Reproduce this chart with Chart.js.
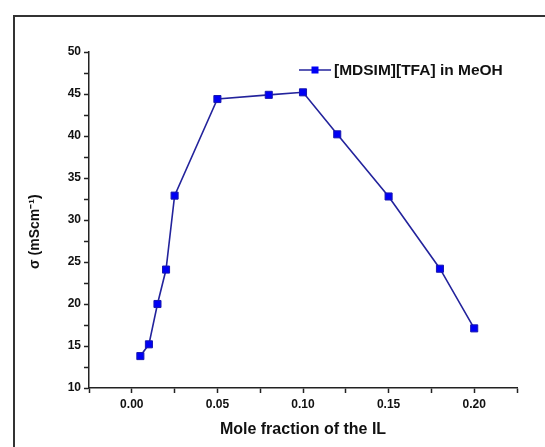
<!DOCTYPE html>
<html>
<head>
<meta charset="utf-8">
<script src="https://cdn.jsdelivr.net/npm/chart.js@4.4.1/dist/chart.umd.min.js"></script>
<style>
  html, body { margin: 0; padding: 0; background: #fff; }
  #wrap { width: 545px; height: 447px; position: relative; }
</style>
</head>
<body>
<div id="wrap"><canvas id="myChart"></canvas></div>
<script>
// data
var moleFraction = [0.005, 0.01, 0.015, 0.02, 0.025, 0.05, 0.08, 0.10, 0.12, 0.15, 0.18, 0.20];
var conductivity = [13.8, 15.2, 20.0, 24.1, 32.9, 44.4, 44.9, 45.2, 40.2, 32.8, 24.2, 17.1];
var seriesName = '[MDSIM][TFA] in MeOH';
var xTickLabels = ['0.00', '0.05', '0.10', '0.15', '0.20'];
var yTickLabels = ['10', '15', '20', '25', '30', '35', '40', '45', '50'];

var points = moleFraction.map(function(x, i) {
    return { x: x, y: conductivity[i] };
});

var lineColor = '#23239c';
var markerColor = '#0000f5';
var axisColor = '#222';

// outer frame of the figure
var framePlugin = {
    id: 'frame',
    beforeDraw: function(chart) {
        var c = chart.ctx;
        c.save();
        c.fillStyle = '#fff';
        c.fillRect(0, 0, chart.width, chart.height);
        c.strokeStyle = '#333';
        c.lineWidth = 2;
        c.beginPath();
        c.moveTo(14, chart.height);
        c.lineTo(14, 16);
        c.lineTo(chart.width, 16);
        c.stroke();
        c.restore();
    }
};

// legend drawn inside plot area: line + square marker + text
var legendPlugin = {
    id: 'insideLegend',
    afterDraw: function(chart) {
        var c = chart.ctx;
        var a = chart.chartArea;
        var x0 = a.left + 210, y0 = a.top + 18;
        c.save();
        c.strokeStyle = lineColor;
        c.lineWidth = 1.5;
        c.beginPath();
        c.moveTo(x0, y0);
        c.lineTo(x0 + 32, y0);
        c.stroke();
        c.fillStyle = markerColor;
        c.fillRect(x0 + 12.5, y0 - 3.5, 7, 7);
        c.fillStyle = '#111';
        c.font = 'bold 15.5px Arial';
        c.textBaseline = 'middle';
        c.fillText(seriesName, x0 + 35, y0 + 1);
        c.restore();
    }
};

var ctx = document.getElementById('myChart').getContext('2d');
var myChart = new Chart(ctx, {
    type: 'scatter',
    data: {
        datasets: [{
            label: seriesName,
            data: points,
            showLine: true,
            tension: 0,
            borderColor: lineColor,
            borderWidth: 1.6,
            pointStyle: 'rect',
            pointRadius: 5,
            pointBackgroundColor: markerColor,
            pointBorderColor: '#1818b0',
            pointBorderWidth: 1
        }]
    },
    options: {
        responsive: true,
        maintainAspectRatio: false,
        animation: false,
        layout: {
            padding: { left: 0, top: 52, right: 28, bottom: 0 }
        },
        plugins: {
            legend: { display: false },
            tooltip: { enabled: false }
        },
        scales: {
            x: {
                type: 'linear',
                min: -0.025,
                max: 0.225,
                afterFit: function(scale) { scale.height = 59; },
                border: { color: axisColor, width: 1.5 },
                grid: {
                    drawOnChartArea: false,
                    tickLength: 5,
                    tickColor: axisColor,
                    tickWidth: 1.5
                },
                ticks: {
                    stepSize: 0.025,
                    padding: 4,
                    color: '#111',
                    font: { family: 'Arial', weight: 'bold', size: 12 },
                    callback: function(value) {
                        var s = value.toFixed(2);
                        var m = Math.round(value * 1000);
                        return (m % 50 === 0 && xTickLabels.indexOf(s) >= 0) ? s : '';
                    }
                },
                title: {
                    display: true,
                    text: 'Mole fraction of the IL',
                    color: '#111',
                    font: { family: 'Arial', weight: 'bold', size: 16 },
                    padding: { top: 0, bottom: 8 }
                }
            },
            y: {
                min: 10,
                max: 50,
                afterFit: function(scale) { scale.width = 89; },
                border: { color: axisColor, width: 1.5 },
                grid: {
                    drawOnChartArea: false,
                    tickLength: 5,
                    tickColor: axisColor,
                    tickWidth: 1.5
                },
                ticks: {
                    stepSize: 2.5,
                    padding: 3,
                    color: '#111',
                    font: { family: 'Arial', weight: 'bold', size: 12 },
                    callback: function(value) {
                        var s = String(value);
                        return yTickLabels.indexOf(s) >= 0 ? s : '';
                    }
                },
                title: {
                    display: true,
                    // trailing spaces nudge the label a bit lower, as in the original
                    text: 'σ (mScm⁻¹)      ',
                    color: '#111',
                    font: { family: 'Arial', weight: 'bold', size: 14 },
                    padding: { top: 27, bottom: 0 }
                }
            }
        }
    },
    plugins: [framePlugin, legendPlugin]
});
</script>
</body>
</html>
